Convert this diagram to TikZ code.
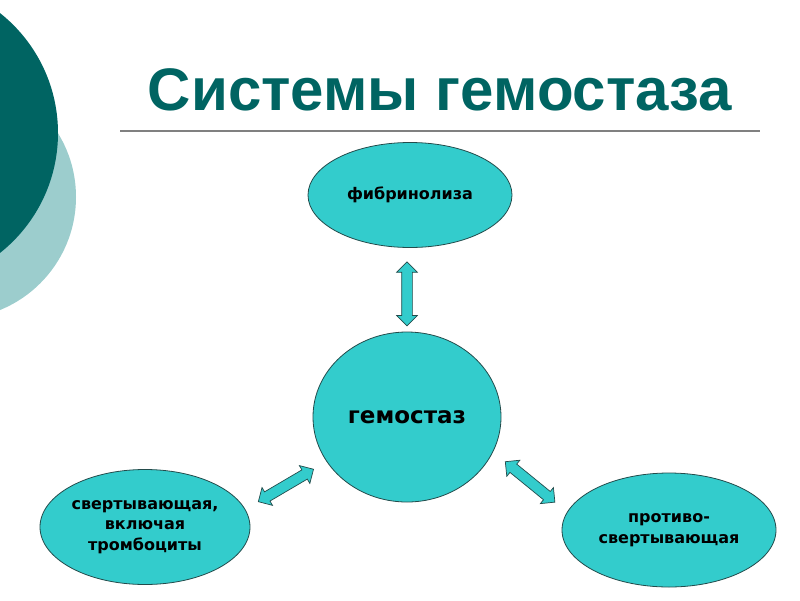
\documentclass[tikz,border=0pt]{standalone}
\usepackage{fontspec}
\setmainfont{Liberation Sans}
\newfontfamily\boxfont{DejaVu Sans}
\usepackage{tikz}
\usetikzlibrary{positioning}
\usetikzlibrary{shapes.geometric,shapes.arrows}
\usepackage{color}
\definecolor{seadark}{RGB}{0,100,98}
\definecolor{sealight}{RGB}{156,205,205}
\definecolor{cyanfill}{RGB}{51,204,204}
\definecolor{rimline}{RGB}{35,75,75}

\begin{document}
\begin{tikzpicture}[x=1pt,y=-1pt,
  blob/.style={ellipse,draw=rimline,line width=.8pt,fill=cyanfill,inner sep=0pt,align=center,
    font=\boxfont\bfseries\fontsize{16}{20.5}\selectfont},
  dblarr/.style={double arrow,draw=rimline,line width=.7pt,fill=cyanfill,minimum height=64pt,
    minimum width=20pt,inner sep=5pt,double arrow head extend=5pt}]
 \clip (0,0) rectangle (800,600);
 \fill[sealight] (-46,197) circle (122pt);
 \fill[seadark] (-95,133) circle (153pt);
 \node[anchor=base,text=seadark,font=\bfseries\fontsize{60}{72}\selectfont] (title) at (440,110) {Системы гемостаза};
 \draw[gray,line width=2pt] (120,131) -- (760,131);
 \node[blob,minimum width=204pt,minimum height=105pt] (fibr) at (410,195) {фибринолиза};
 \node[blob,minimum width=188pt,minimum height=170pt,font=\boxfont\bfseries\fontsize{23}{27}\selectfont] (hemo) at (407,417) {гемостаз};
 \node[blob,minimum width=210pt,minimum height=115pt] (svert) at (145,527) {свертывающая,\\включая\\тромбоциты};
 \node[blob,minimum width=214pt,minimum height=114pt] (anti) at (669,530) {противо-\\свертывающая};
 %block arrows between the systems
 \path (hemo.north) -- node[dblarr,sloped,pos=.45] (up) {} (hemo.north |- fibr.south);
 \path (hemo.209) -- node[dblarr,sloped] (lt) {} (svert.10);
 \path (hemo.338) -- node[dblarr,sloped] (rt) {} (anti.170);
\end{tikzpicture}
\end{document}
